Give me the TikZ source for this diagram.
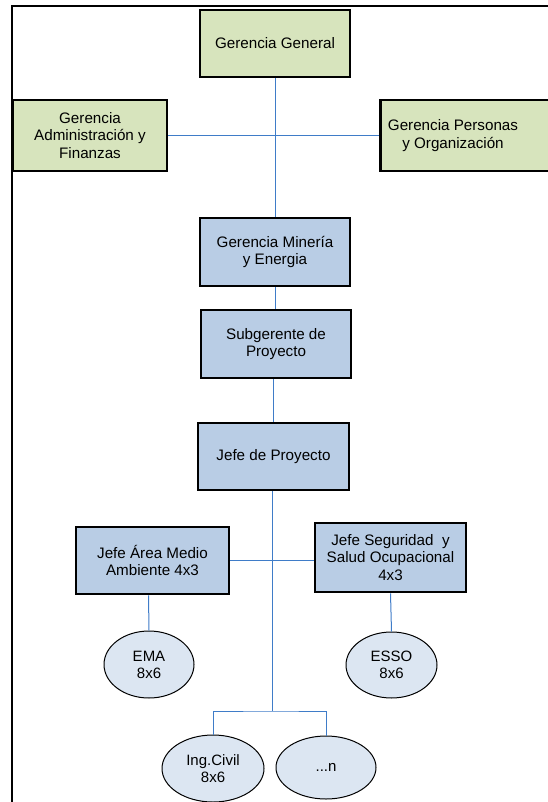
\documentclass[tikz,border=0pt]{standalone}
\usepackage{fontspec}
\setmainfont{Liberation Sans}
\usetikzlibrary{shapes.geometric}
\definecolor{orgGreen}{HTML}{D7E4BD}
\definecolor{orgBlue}{HTML}{B9CDE5}
\definecolor{orgPale}{HTML}{DCE6F2}
\definecolor{orgLine}{HTML}{3F7CC8}
\tikzset{
  frameline/.style = {line width=2pt, black},
  link/.style      = {orgLine, line width=1pt},
  unitbox/.style   = {rectangle, draw=black, line width=2.8pt, align=center,
                      inner sep=0pt, font=\fontsize{15.2}{17.8}\selectfont},
  greenbox/.style  = {unitbox, fill=orgGreen},
  bluebox/.style   = {unitbox, fill=orgBlue},
  staffoval/.style = {ellipse, draw=black, line width=1pt, fill=orgPale,
                      align=center, inner sep=0pt,
                      font=\fontsize{15}{17}\selectfont},
}

\begin{document}
\begin{tikzpicture}[x=1pt,y=-1pt]
  \useasboundingbox (0,0) rectangle (548,802);
  \clip (0,0) rectangle (548,802);
  \fill[white] (0,0) rectangle (548,802);
  \draw[frameline] (11.5,810) -- (11.5,6.5) -- (560,6.5);

  % top management
  \node[greenbox, minimum width=150, minimum height=67] (general) at (275,43.5) {Gerencia General};
  \node[greenbox, minimum width=154, minimum height=71] (admin) at (90,135.5) {Gerencia\\Administración y\\Finanzas};
  \node[greenbox, minimum width=181, minimum height=71, anchor=west] (personas) at (379,135.5) {};
  \node[align=center, font=\fontsize{15.2}{17.8}\selectfont] (personastxt) at (453,135.5) {Gerencia Personas\\y Organización};

  % project line
  \node[bluebox, minimum width=150, minimum height=68] (mineria) at (275,252) {Gerencia Minería\\y Energia};
  \node[bluebox, minimum width=150, minimum height=68] (subgerente) at (276,344) {Subgerente de\\Proyecto};
  \node[bluebox, minimum width=151, minimum height=67] (jefe) at (273.5,456.5) {Jefe de Proyecto};
  \node[bluebox, minimum width=153, minimum height=67] (medio) at (152.5,560.5) {Jefe Área Medio\\Ambiente 4x3};
  \node[bluebox, minimum width=151, minimum height=69] (seguridad) at (390.5,557.5) {Jefe Seguridad\ \ y\\Salud Ocupacional\\4x3};

  % staff
  \node[staffoval, minimum width=90, minimum height=67] (ema) at (149,664.5) {EMA\\8x6};
  \node[staffoval, minimum width=91, minimum height=66] (esso) at (391.5,665) {ESSO\\8x6};
  \node[staffoval, minimum width=102, minimum height=67] (ingcivil) at (213,768.5) {Ing.Civil\\8x6};
  \node[staffoval, minimum width=100, minimum height=63] (otros) at (326,767.5) {...n};
  \coordinate (bus) at (272,711);

  % connectors
  \draw[link] (general.south) -- (mineria.north);
  \draw[link] (admin.east) -- (personas.west);
  \draw[link] (mineria.south) -- (mineria.south |- subgerente.north);
  \draw[link] (subgerente.south -| jefe.north) -- (jefe.north);
  \draw[link] (jefe.south) ++(-1.5,0) -- (bus);
  \draw[link] (medio.east) -- (seguridad.west |- medio.east);
  \draw[link] (medio.south) ++(-4,0) -- (ema.north);
  \draw[link] (seguridad.south) -- (esso.north);
  \draw[link] (ingcivil.north) |- (bus) -| (otros.north);
\end{tikzpicture}
\end{document}
